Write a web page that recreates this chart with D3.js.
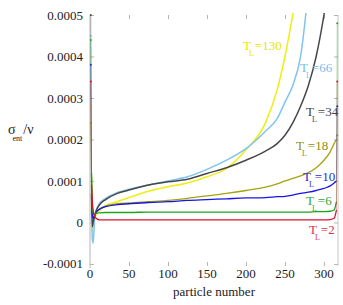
<!DOCTYPE html>
<html>
<head>
<meta charset="utf-8">
<script src="https://cdn.jsdelivr.net/npm/d3@7"></script>
<style>
  body { margin: 0; background: #fff; }
  svg { display: block; }
  text { font-family: "Liberation Serif", "DejaVu Serif", serif; }
</style>
</head>
<body>
<div id="chart"></div>
<script>
var particles = [1, 2, 3, 4, 6, 8, 12, 20, 35, 50, 75, 100, 125, 150, 175, 200, 225, 240, 250, 260, 270, 280, 290, 300, 308, 313, 316, 317];

// sigma_ent / nu, one array per T_L (null = off the top of the plot, not drawn)
var tl2   = [0.00034, 0.00009, 0.00005, 0.00003, 0.000015, 0.00001, 0.000006, 0.000006, 0.000006, 0.000006, 0.000006, 0.000006, 0.000006, 0.000006, 0.000006, 0.000006, 0.000006, 0.000006, 0.000006, 0.000006, 0.000006, 0.000006, 0.000006, 0.000006, 0.000007, 0.00001, 0.00003, 0.00034];
var tl6   = [0.00044, 0.00012, 0.00004, 0.00002, 0.00002, 0.000022, 0.000023, 0.000024, 0.000024, 0.000024, 0.000025, 0.000025, 0.000025, 0.000025, 0.000025, 0.000025, 0.000025, 0.000025, 0.000025, 0.000025, 0.000025, 0.000025, 0.000026, 0.000026, 0.000027, 0.00003, 0.00005, 0.00048];
var tl10  = [0.00038, 0.00006, 0.00002, 0.00001, 0.000018, 0.000025, 0.000032, 0.000038, 0.000043, 0.000045, 0.000048, 0.00005, 0.000053, 0.000055, 0.000057, 0.000059, 0.00006, 0.000062, 0.000063, 0.000066, 0.00007, 0.000073, 0.000077, 0.000082, 0.000088, 0.000095, 0.0001, 0.00028];
var tl18  = [0.00024, 0.00011, 0.00003, 0.00002, 0.00002, 0.000025, 0.000032, 0.00004, 0.000045, 0.000047, 0.00005, 0.000053, 0.000058, 0.000064, 0.00007, 0.000077, 0.000085, 0.000093, 0.0001, 0.000106, 0.000112, 0.00012, 0.000132, 0.00015, 0.00017, 0.00019, 0.0002, 0.00021];
var tl34  = [0.0005, 0.00007, -0.00001, 0.0, 0.000015, 0.000028, 0.000042, 0.000055, 0.00007, 0.000078, 0.00009, 0.000098, 0.000104, 0.000118, 0.000132, 0.00015, 0.000172, 0.00019, 0.00021, 0.00024, 0.00028, 0.00033, 0.0004, 0.0005, 0.0006, null, null, null];
var tl66  = [0.00045, 0.00003, -0.00004, -0.00005, 0.00001, 0.00003, 0.000045, 0.000058, 0.000072, 0.00008, 0.00009, 0.0001, 0.00011, 0.000128, 0.00015, 0.000178, 0.00022, 0.00025, 0.00029, 0.00033, 0.0004, 0.00056, null, null, null, null, null, null];
var tl130 = [0.00028, 0.00005, -0.00002, -0.00001, 0.00001, 0.00002, 0.000028, 0.00004, 0.00005, 0.00006, 0.000075, 0.000086, 0.000095, 0.00011, 0.00013, 0.000175, 0.00024, 0.00032, 0.0004, 0.0005, 0.0006, null, null, null, null, null, null, null];

var seriesNames  = ["2", "6", "10", "18", "34", "66", "130"];
var seriesColors = ["#d8142e", "#1ca41c", "#1616e4", "#a4a410", "#474747", "#80c4f0", "#eeee10"];
var labelColors  = ["#dc3050", "#30a830", "#2a2ad8", "#8e8e06", "#444444", "#78bcec", "#e6e600"];

var xTicks = [0, 50, 100, 150, 200, 250, 300];
var yTicks = [-0.0001, 0, 0.0001, 0.0002, 0.0003, 0.0004, 0.0005];
var yTickText = ["-0.0001", "0", "0.0001", "0.0002", "0.0003", "0.0004", "0.0005"];

(function () {
var width = 343, height = 305;
var plotL = 90, plotR = 338, plotT = 15, plotB = 266;

var svg = d3.select("#chart").append("svg")
    .attr("width", width)
    .attr("height", height);

var x = d3.scaleLinear().domain([0, 318]).range([plotL, plotR]);
var y = d3.scaleLinear().domain([-0.000105, 0.0005]).range([plotB, plotT]);

// frame: left and right sides only, ticks pointing inwards
svg.append("line")
    .attr("x1", plotL).attr("x2", plotL).attr("y1", plotT).attr("y2", plotB + 2)
    .attr("stroke", "#b4b4b4").attr("stroke-width", 1);
svg.append("line")
    .attr("x1", plotR).attr("x2", plotR).attr("y1", plotT).attr("y2", plotB)
    .attr("stroke", "#c8c8c8").attr("stroke-width", 1);

var yAxisL = d3.axisRight(y).tickValues(yTicks).tickSize(4).tickFormat("");
var gyl = svg.append("g").attr("transform", "translate(" + plotL + ",0)").call(yAxisL);
var yAxisR = d3.axisLeft(y).tickValues(yTicks).tickSize(4).tickFormat("");
var gyr = svg.append("g").attr("transform", "translate(" + plotR + ",0)").call(yAxisR);
var xAxisB = d3.axisTop(x).tickValues(xTicks.slice(1)).tickSize(4).tickFormat("");
var gxb = svg.append("g").attr("transform", "translate(0," + plotB + ")").call(xAxisB);
var xAxisT = d3.axisBottom(x).tickValues(xTicks.slice(1)).tickSize(4).tickFormat("");
var gxt = svg.append("g").attr("transform", "translate(0," + plotT + ")").call(xAxisT);

[gyl, gyr, gxb, gxt].forEach(function (g) {
    g.select(".domain").remove();
    g.selectAll(".tick line").attr("stroke", "#b4b4b4");
});

// tick labels
svg.append("g").selectAll("text")
    .data(yTicks)
    .enter().append("text")
    .attr("x", plotL - 7)
    .attr("y", function (d) { return y(d); })
    .attr("dy", "0.35em")
    .attr("text-anchor", "end")
    .attr("font-size", 13)
    .attr("fill", "#222")
    .text(function (d, i) { return yTickText[i]; });

svg.append("g").selectAll("text")
    .data(xTicks)
    .enter().append("text")
    .attr("x", function (d) { return x(d); })
    .attr("y", 278)
    .attr("text-anchor", "middle")
    .attr("font-size", 13)
    .attr("fill", "#222")
    .text(function (d) { return d; });

svg.append("text")
    .attr("x", 214)
    .attr("y", 296)
    .attr("text-anchor", "middle")
    .attr("font-size", 13)
    .attr("fill", "#222")
    .text("particle number");

// y label: sigma_ent / nu
var ylab = svg.append("text")
    .attr("x", 8)
    .attr("y", 134)
    .attr("font-size", 14)
    .attr("fill", "#222");
ylab.append("tspan").text("σ");
ylab.append("tspan").attr("font-size", 8).attr("dx", -3).attr("dy", 7).text("ent");
ylab.append("tspan").attr("dx", 1).attr("dy", -7).text("/ν");

// data
svg.append("clipPath").attr("id", "plot-clip")
  .append("rect")
    .attr("x", plotL).attr("y", plotT - 2)
    .attr("width", plotR - plotL + 1).attr("height", plotB - plotT + 2);

var allSeries = [tl2, tl6, tl10, tl18, tl34, tl66, tl130];

var line = d3.line()
    .defined(function (d) { return d[1] !== null; })
    .x(function (d) { return x(d[0]); })
    .y(function (d) { return y(d[1]); })
    .curve(d3.curveMonotoneX);
var straight = d3.line()
    .x(function (d) { return x(d[0]); })
    .y(function (d) { return y(d[1]); });

var lines = svg.append("g").attr("clip-path", "url(#plot-clip)");
// draw the widest-spread series first so the low, flat ones stay on top
[6, 5, 4, 3, 2, 1, 0].forEach(function (i) {
    var pts = particles.map(function (p, j) { return [p, allSeries[i][j]]; });
    var last = pts[pts.length - 1];
    var hasEnd = last[1] !== null;
    var main = pts.slice(1, hasEnd ? pts.length - 1 : pts.length);
    var w = (i >= 4) ? 1.5 : 1.3;

    // first and last particle: thin jump, as in the scatter of the original
    var ends = [pts.slice(0, 2)];
    if (hasEnd) ends.push(pts.slice(pts.length - 2));
    ends.forEach(function (seg) {
        lines.append("path")
            .attr("d", straight(seg))
            .attr("fill", "none")
            .attr("stroke", seriesColors[i])
            .attr("stroke-width", 0.8)
            .attr("opacity", 0.45);
        lines.append("circle")
            .attr("cx", x(seg[seg[0][0] === 1 ? 0 : 1][0]))
            .attr("cy", y(seg[seg[0][0] === 1 ? 0 : 1][1]))
            .attr("r", 1)
            .attr("fill", seriesColors[i]);
    });

    lines.append("path")
        .datum(main)
        .attr("fill", "none")
        .attr("stroke", seriesColors[i])
        .attr("stroke-width", w)
        .attr("d", line);
});

// series labels
var labelPos = [[309, 234], [306, 205], [303, 181], [296, 150], [306, 116], [300, 72], [243, 50]];
seriesNames.forEach(function (name, i) {
    var t = svg.append("text")
        .attr("x", labelPos[i][0])
        .attr("y", labelPos[i][1])
        .attr("font-size", 13)
        .attr("fill", labelColors[i]);
    t.append("tspan").text("T");
    t.append("tspan").attr("font-size", 8).attr("dx", -2).attr("dy", 6).text("L");
    t.append("tspan").attr("dx", 1).attr("dy", -6).text("=" + name);
});
})();
</script>
</body>
</html>
